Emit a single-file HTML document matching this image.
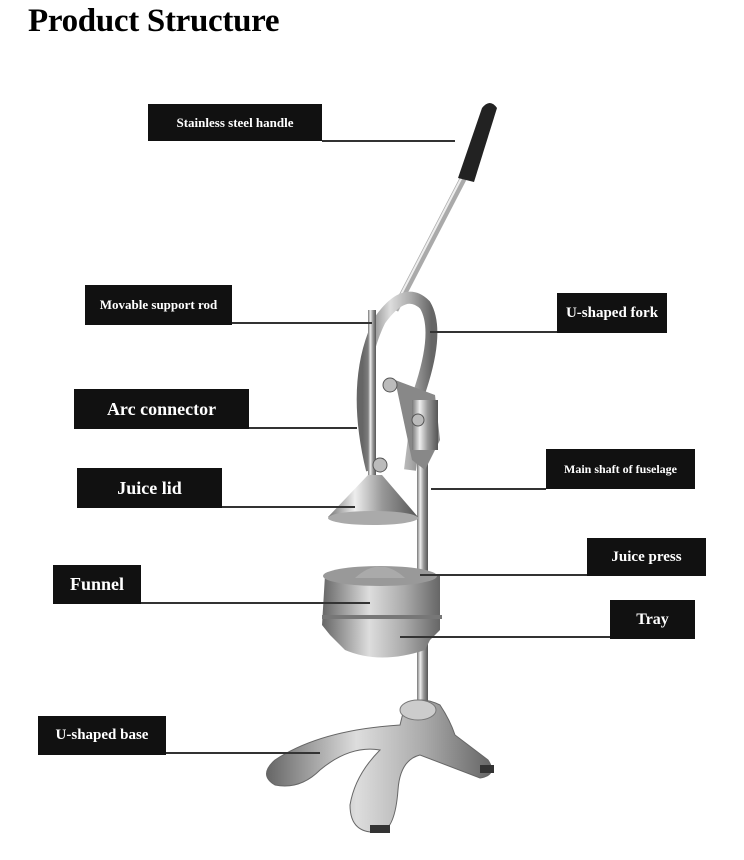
<!DOCTYPE html>
<html><head><meta charset="utf-8"><style>
html,body{margin:0;padding:0;background:#fff;width:744px;height:860px;overflow:hidden;}
.t{position:absolute;left:28px;top:3px;font:bold 33px "Liberation Serif",serif;color:#000;letter-spacing:-0.3px;}
.b{position:absolute;background:#111;color:#fff;font-family:"Liberation Serif",serif;font-weight:bold;display:flex;align-items:center;justify-content:center;white-space:nowrap;}
.l{position:absolute;height:2px;background:#333;}
</style></head><body>
<svg width="744" height="860" style="position:absolute;left:0;top:0">
<defs>
<linearGradient id="m" x1="0" x2="1"><stop offset="0" stop-color="#777"/><stop offset=".3" stop-color="#eee"/><stop offset=".6" stop-color="#999"/><stop offset="1" stop-color="#555"/></linearGradient>
<linearGradient id="m2" x1="0" x2="1"><stop offset="0" stop-color="#666"/><stop offset=".4" stop-color="#ddd"/><stop offset=".7" stop-color="#aaa"/><stop offset="1" stop-color="#666"/></linearGradient>
</defs>
<rect x="417" y="400" width="11" height="310" fill="url(#m)"/>
<line x1="395" y1="310" x2="465" y2="175" stroke="#aaa" stroke-width="7"/>
<line x1="393" y1="310" x2="463" y2="175" stroke="#eee" stroke-width="2"/>
<path d="M458 178 L482 108 Q490 98 497 108 L474 182 Z" fill="#222"/>
<path d="M372 470 Q350 380 380 320 Q405 285 425 305 Q440 330 420 390 L410 470" fill="none" stroke="url(#m2)" stroke-width="12"/>
<path d="M395 380 L435 395 L440 440 L425 470 L412 460 Z" fill="#888"/>
<rect x="412" y="400" width="26" height="50" fill="url(#m)"/>
<rect x="368" y="310" width="8" height="165" fill="url(#m)"/>
<circle cx="390" cy="385" r="7" fill="#bbb" stroke="#555"/>
<circle cx="418" cy="420" r="6" fill="#bbb" stroke="#555"/>
<circle cx="380" cy="465" r="7" fill="#bbb" stroke="#555"/>
<path d="M368 475 L382 475 L418 517 Q375 532 328 517 Z" fill="url(#m)"/>
<ellipse cx="373" cy="518" rx="45" ry="7" fill="#aaa"/>
<path d="M325 575 L440 575 L440 630 L430 640 L425 650 Q380 665 345 650 L330 635 L322 625 Z" fill="url(#m2)"/>
<ellipse cx="380" cy="576" rx="57" ry="10" fill="#999"/>
<path d="M355 578 Q380 555 405 578 Z" fill="#aaa"/>
<rect x="322" y="615" width="120" height="4" fill="#777"/>
<path d="M405 705 Q420 695 440 705 Q450 720 455 735 L488 760 Q498 775 480 778 L420 755 Q400 760 398 790 Q395 830 380 832 Q350 835 350 805 Q355 775 380 750 Q350 745 320 770 Q300 790 275 785 Q258 775 275 760 Q320 730 400 725 Z" fill="url(#m2)" stroke="#666"/>
<ellipse cx="418" cy="710" rx="18" ry="10" fill="#ccc" stroke="#777"/>
<rect x="370" y="825" width="20" height="8" fill="#333"/>
<rect x="480" y="765" width="14" height="8" fill="#333"/>
</svg>
<div class="t">Product Structure</div>

<div class="b" style="left:148px;top:104px;width:174px;height:37px;font-size:13px">Stainless steel handle</div>
<div class="l" style="left:322px;top:140px;width:133px"></div>

<div class="b" style="left:85px;top:285px;width:147px;height:40px;font-size:13px">Movable support rod</div>
<div class="l" style="left:232px;top:322px;width:140px"></div>

<div class="b" style="left:557px;top:293px;width:110px;height:40px;font-size:15px">U-shaped fork</div>
<div class="l" style="left:430px;top:331px;width:127px"></div>

<div class="b" style="left:74px;top:389px;width:175px;height:40px;font-size:18px">Arc connector</div>
<div class="l" style="left:249px;top:427px;width:108px"></div>

<div class="b" style="left:77px;top:468px;width:145px;height:40px;font-size:18px">Juice lid</div>
<div class="l" style="left:222px;top:506px;width:133px"></div>

<div class="b" style="left:546px;top:449px;width:149px;height:40px;font-size:12px">Main shaft of fuselage</div>
<div class="l" style="left:431px;top:488px;width:115px"></div>

<div class="b" style="left:587px;top:538px;width:119px;height:38px;font-size:15px">Juice press</div>
<div class="l" style="left:420px;top:574px;width:167px"></div>

<div class="b" style="left:53px;top:565px;width:88px;height:39px;font-size:18px">Funnel</div>
<div class="l" style="left:141px;top:602px;width:229px"></div>

<div class="b" style="left:610px;top:600px;width:85px;height:39px;font-size:16px">Tray</div>
<div class="l" style="left:400px;top:636px;width:210px"></div>

<div class="b" style="left:38px;top:716px;width:128px;height:39px;font-size:15px">U-shaped base</div>
<div class="l" style="left:166px;top:752px;width:154px"></div>
</body></html>
